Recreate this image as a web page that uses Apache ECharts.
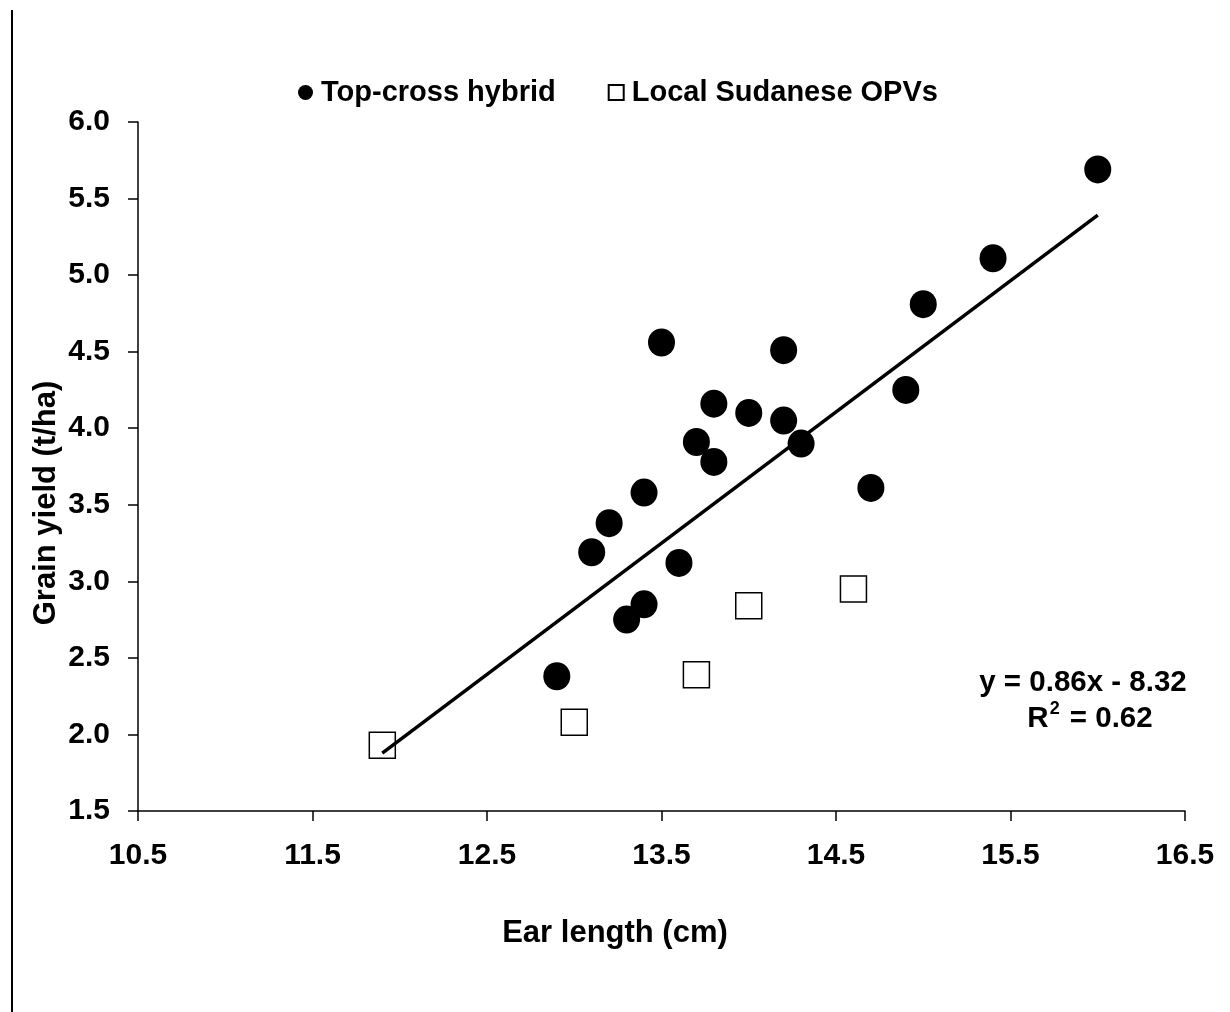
<!DOCTYPE html>
<html>
<head>
<meta charset="utf-8">
<script src="https://cdn.jsdelivr.net/npm/echarts@6/dist/echarts.min.js"></script>
<style>
html,body{margin:0;padding:0;background:#fff;}
#chart{width:1230px;height:1012px;}
</style>
</head>
<body>
<div id="chart"></div>
<script>
// Top-cross hybrids: ear length (cm), grain yield (t/ha)
var hybridX = [12.9, 13.1, 13.2, 13.3, 13.4, 13.4, 13.5, 13.6, 13.7, 13.8, 13.8, 14.0, 14.2, 14.2, 14.3, 14.7, 14.9, 15.0, 15.4, 16.0];
var hybridY = [2.38, 3.19, 3.38, 2.75, 2.85, 3.58, 4.56, 3.12, 3.91, 4.16, 3.78, 4.10, 4.51, 4.05, 3.90, 3.61, 4.25, 4.81, 5.11, 5.69];
// Local Sudanese OPVs
var opvX = [11.9, 13.0, 13.7, 14.0, 14.6];
var opvY = [1.93, 2.08, 2.39, 2.84, 2.95];
var seriesNames = ['Top-cross hybrid', 'Local Sudanese OPVs'];
var xTitle = 'Ear length (cm)';
var yTitle = 'Grain yield (t/ha)';
var equationText = 'y = 0.86x - 8.32';
var r2Text = '{b|R}{s|2}{b| = 0.62}';

function zip(xs, ys){ return xs.map(function(x,i){ return [x, ys[i]]; }); }

// linear least-squares fit over all points
var allX = hybridX.concat(opvX), allY = hybridY.concat(opvY);
var n = allX.length, mx = 0, my = 0;
allX.forEach(function(v){ mx += v; }); mx /= n;
allY.forEach(function(v){ my += v; }); my /= n;
var sxx = 0, sxy = 0;
for (var i = 0; i < n; i++) { sxx += (allX[i]-mx)*(allX[i]-mx); sxy += (allX[i]-mx)*(allY[i]-my); }
var slope = sxy / sxx, intercept = my - slope * mx;
var xMin = Math.min.apply(null, allX), xMax = Math.max.apply(null, allX);
var trend = [[xMin, slope*xMin + intercept], [xMax, slope*xMax + intercept]];

var FONT = '"Liberation Sans", Arial, sans-serif';
var chart = echarts.init(document.getElementById('chart'), null, {renderer: 'canvas'});
chart.setOption({
  backgroundColor: '#ffffff',
  animation: false,
  grid: {left: 138, right: 45, top: 122, bottom: 201, containLabel: false},
  legend: {
    left: 293, top: 73,
    itemWidth: 15, itemHeight: 15, itemGap: 52,
    data: [
      {name: seriesNames[0], icon: 'circle'},
      {name: seriesNames[1], icon: 'rect'}
    ],
    textStyle: {fontFamily: FONT, fontWeight: 'bold', fontSize: 29, color: '#000', padding: [0,0,0,3]}
  },
  xAxis: {
    type: 'value', min: 10.5, max: 16.5, interval: 1,
    axisLine: {show: true, lineStyle: {color: '#000', width: 1.5}},
    axisTick: {show: true, length: 10, lineStyle: {color: '#000', width: 1.5}},
    axisLabel: {margin: 30, fontFamily: FONT, fontWeight: 'bold', fontSize: 30, color: '#000',
      formatter: function(v){ return v.toFixed(1); }},
    splitLine: {show: false}
  },
  yAxis: {
    type: 'value', min: 1.5, max: 6.0, interval: 0.5,
    axisLine: {show: true, lineStyle: {color: '#000', width: 1.5}},
    axisTick: {show: true, inside: false, length: 10, lineStyle: {color: '#000', width: 1.5}},
    axisLabel: {margin: 28, fontFamily: FONT, fontWeight: 'bold', fontSize: 30, color: '#000',
      formatter: function(v){ return v.toFixed(1); }},
    splitLine: {show: false}
  },
  series: [
    {
      name: seriesNames[0], type: 'scatter', symbol: 'circle', symbolSize: [27, 28],
      itemStyle: {color: '#000', opacity: 1}, data: zip(hybridX, hybridY), z: 2
    },
    {
      name: seriesNames[1], type: 'scatter', symbol: 'rect', symbolSize: 26,
      itemStyle: {color: '#fff', borderColor: '#000', borderWidth: 1.5, opacity: 1}, data: zip(opvX, opvY), z: 2
    },
    {
      name: 'trend', type: 'line', data: trend, symbol: 'none', silent: true,
      lineStyle: {color: '#000', width: 3.5, opacity: 1}, z: 3
    }
  ],
  graphic: [
    {type: 'line', shape: {x1: 12, y1: 10, x2: 12, y2: 1012}, style: {stroke: '#000', lineWidth: 2}},
    {type: 'text', x: 615, y: 933, style: {text: xTitle, font: 'bold 31px ' + FONT, fill: '#000', textAlign: 'center', textVerticalAlign: 'middle'}},
    {type: 'text', x: 46, y: 503, rotation: Math.PI / 2, style: {text: yTitle, font: 'bold 31px ' + FONT, fill: '#000', textAlign: 'center', textVerticalAlign: 'middle'}},
    {type: 'text', x: 1083, y: 683, style: {text: equationText, font: 'bold 29.5px ' + FONT, fill: '#000', textAlign: 'center', textVerticalAlign: 'middle'}},
    {type: 'text', x: 1090, y: 717, style: {text: r2Text, fill: '#000', textAlign: 'center', textVerticalAlign: 'middle',
      rich: {
        b: {fontFamily: FONT, fontWeight: 'bold', fontSize: 29.5, color: '#000', verticalAlign: 'bottom', lineHeight: 34},
        s: {fontFamily: FONT, fontWeight: 'bold', fontSize: 18, color: '#000', verticalAlign: 'top', lineHeight: 34, padding: [0, 2, 14, 1]}
      }}}
  ]
});
</script>
</body>
</html>
